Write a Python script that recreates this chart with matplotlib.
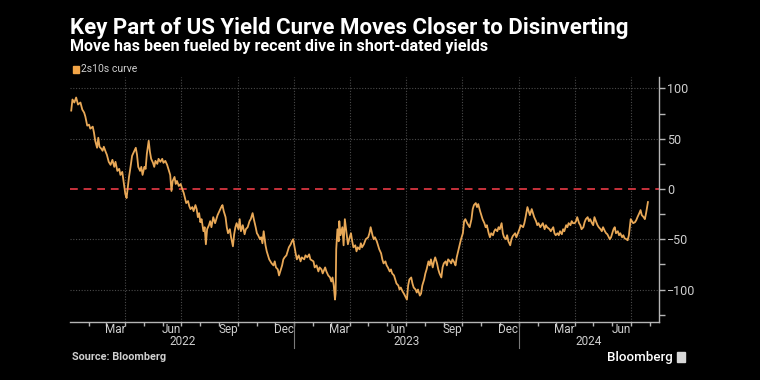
import matplotlib
matplotlib.use('Agg')
import matplotlib.pyplot as plt
import matplotlib.transforms as mtransforms
import pandas as pd

# 2s10s spread (bp)
dates_2022 = ['2022-01-03', '2022-01-05', '2022-01-08', '2022-01-11', '2022-01-14', '2022-01-18', '2022-01-21',
              '2022-01-24', '2022-01-26', '2022-01-29', '2022-02-01', '2022-02-03', '2022-02-07', '2022-02-09',
              '2022-02-11', '2022-02-14', '2022-02-16', '2022-02-18', '2022-02-21', '2022-02-23', '2022-02-25',
              '2022-02-28', '2022-03-02', '2022-03-05', '2022-03-08', '2022-03-11', '2022-03-14', '2022-03-16',
              '2022-03-19', '2022-03-22', '2022-03-24', '2022-03-27', '2022-03-29', '2022-04-01', '2022-04-03',
              '2022-04-05', '2022-04-07', '2022-04-09', '2022-04-12', '2022-04-15', '2022-04-18', '2022-04-20',
              '2022-04-22', '2022-04-25', '2022-04-27', '2022-04-29', '2022-05-02', '2022-05-04', '2022-05-06',
              '2022-05-09', '2022-05-11', '2022-05-13', '2022-05-16', '2022-05-18', '2022-05-20', '2022-05-23',
              '2022-05-25', '2022-05-28', '2022-05-31', '2022-06-02', '2022-06-05', '2022-06-08', '2022-06-10',
              '2022-06-13', '2022-06-15', '2022-06-17', '2022-06-20', '2022-06-22', '2022-06-24', '2022-06-27',
              '2022-06-30', '2022-07-02', '2022-07-05', '2022-07-07', '2022-07-09', '2022-07-12', '2022-07-14',
              '2022-07-16', '2022-07-19', '2022-07-21', '2022-07-24', '2022-07-26', '2022-07-28', '2022-07-30',
              '2022-08-01', '2022-08-03', '2022-08-06', '2022-08-08', '2022-08-10', '2022-08-12', '2022-08-15',
              '2022-08-17', '2022-08-19', '2022-08-22', '2022-08-25', '2022-08-29', '2022-09-01', '2022-09-04',
              '2022-09-06', '2022-09-08', '2022-09-11', '2022-09-13', '2022-09-15', '2022-09-18', '2022-09-20',
              '2022-09-23', '2022-09-25', '2022-09-27', '2022-09-29', '2022-10-02', '2022-10-04', '2022-10-06',
              '2022-10-09', '2022-10-12', '2022-10-14', '2022-10-17', '2022-10-20', '2022-10-22', '2022-10-25',
              '2022-10-27', '2022-10-30', '2022-11-01', '2022-11-03', '2022-11-06', '2022-11-08', '2022-11-10',
              '2022-11-12', '2022-11-15', '2022-11-17', '2022-11-19', '2022-11-21', '2022-11-23', '2022-11-25',
              '2022-11-28', '2022-11-30', '2022-12-02', '2022-12-05', '2022-12-07', '2022-12-09', '2022-12-12',
              '2022-12-14', '2022-12-16', '2022-12-19', '2022-12-21', '2022-12-23', '2022-12-26', '2022-12-28',
              '2022-12-30']
values_2022 = [78, 89, 86, 91, 84, 86, 79,
               76, 72, 63, 64, 60, 62, 56,
               48, 41, 51, 42, 40, 38, 42,
               37, 34, 27, 24, 29, 22, 27,
               18, 20, 14, 17, 8, -5, -9,
               2, 12, 20, 33, 37, 41, 34,
               22, 18, 22, 14, 22, 20, 35,
               48, 37, 30, 26, 22, 28, 25,
               30, 27, 30, 26, 28, 24, 20,
               14, -2, 8, 12, 5, 8, 3,
               5, 1, -4, -9, -14, -12, -17,
               -20, -18, -22, -16, -20, -28, -24,
               -33, -30, -42, -38, -55, -40, -36,
               -32, -38, -28, -34, -26, -22, -18,
               -16, -22, -28, -38, -44, -40, -48,
               -57, -45, -38, -34, -40, -30, -42,
               -36, -45, -40, -38, -32, -30, -24,
               -30, -38, -44, -46, -50, -48, -54,
               -42, -56, -62, -66, -70, -72, -74,
               -76, -72, -78, -80, -86, -82, -76,
               -70, -68, -66, -62, -58, -55, -52,
               -50]

dates_2023 = ['2023-01-03', '2023-01-05', '2023-01-08', '2023-01-11', '2023-01-13', '2023-01-17', '2023-01-19',
              '2023-01-22', '2023-01-25', '2023-01-27', '2023-02-01', '2023-02-03', '2023-02-06', '2023-02-09',
              '2023-02-11', '2023-02-14', '2023-02-16', '2023-02-20', '2023-02-22', '2023-02-25', '2023-02-28',
              '2023-03-02', '2023-03-04', '2023-03-06', '2023-03-08', '2023-03-09', '2023-03-10', '2023-03-12',
              '2023-03-14', '2023-03-15', '2023-03-17', '2023-03-20', '2023-03-22', '2023-03-24', '2023-03-27',
              '2023-03-29', '2023-03-31', '2023-04-03', '2023-04-05', '2023-04-07', '2023-04-10', '2023-04-12',
              '2023-04-14', '2023-04-17', '2023-04-19', '2023-04-21', '2023-04-24', '2023-04-27', '2023-05-01',
              '2023-05-03', '2023-05-05', '2023-05-08', '2023-05-10', '2023-05-12', '2023-05-15', '2023-05-17',
              '2023-05-19', '2023-05-22', '2023-05-24', '2023-05-26', '2023-05-29', '2023-05-31', '2023-06-02',
              '2023-06-05', '2023-06-07', '2023-06-09', '2023-06-12', '2023-06-14', '2023-06-16', '2023-06-19',
              '2023-06-21', '2023-06-23', '2023-06-26', '2023-06-28', '2023-07-03', '2023-07-05', '2023-07-07',
              '2023-07-10', '2023-07-12', '2023-07-14', '2023-07-17', '2023-07-19', '2023-07-21', '2023-07-24',
              '2023-07-26', '2023-07-28', '2023-07-31', '2023-08-02', '2023-08-04', '2023-08-07', '2023-08-09',
              '2023-08-11', '2023-08-14', '2023-08-16', '2023-08-18', '2023-08-21', '2023-08-23', '2023-08-25',
              '2023-08-28', '2023-08-30', '2023-09-01', '2023-09-04', '2023-09-06', '2023-09-08', '2023-09-11',
              '2023-09-13', '2023-09-15', '2023-09-18', '2023-09-20', '2023-09-22', '2023-09-25', '2023-09-27',
              '2023-09-29', '2023-10-02', '2023-10-04', '2023-10-06', '2023-10-09', '2023-10-11', '2023-10-13',
              '2023-10-16', '2023-10-18', '2023-10-20', '2023-10-23', '2023-10-25', '2023-10-27', '2023-10-30',
              '2023-11-01', '2023-11-03', '2023-11-06', '2023-11-08', '2023-11-10', '2023-11-13', '2023-11-15',
              '2023-11-17', '2023-11-20', '2023-11-22', '2023-11-24', '2023-11-27', '2023-11-29', '2023-12-01',
              '2023-12-04', '2023-12-06', '2023-12-08', '2023-12-11', '2023-12-13', '2023-12-15', '2023-12-18',
              '2023-12-20', '2023-12-22', '2023-12-26', '2023-12-28']
values_2023 = [-64, -70, -66, -72, -68, -70, -66,
               -68, -65, -70, -72, -78, -76, -82,
               -78, -80, -84, -78, -82, -86, -88,
               -92, -88, -96, -110, -104, -60, -40,
               -52, -32, -46, -38, -56, -30, -45,
               -55, -50, -44, -52, -58, -56, -62,
               -58, -60, -54, -58, -55, -50, -48,
               -44, -38, -46, -50, -48, -52, -56,
               -60, -64, -70, -74, -72, -76, -78,
               -82, -80, -84, -86, -90, -94, -96,
               -100, -98, -102, -104, -110, -96, -90,
               -88, -94, -98, -100, -103, -100, -106,
               -104, -96, -90, -84, -80, -72, -76,
               -70, -78, -72, -68, -74, -80, -84,
               -88, -78, -74, -72, -76, -70, -72,
               -74, -70, -73, -76, -68, -60, -55,
               -50, -44, -32, -30, -34, -36, -38,
               -30, -20, -16, -14, -18, -15, -22,
               -26, -30, -34, -38, -36, -44, -48,
               -44, -46, -42, -40, -42, -38, -40,
               -34, -44, -48, -50, -46, -52, -56,
               -50, -47, -44, -48]

dates_2024 = ['2024-01-02', '2024-01-04', '2024-01-08', '2024-01-10', '2024-01-12', '2024-01-15', '2024-01-17',
              '2024-01-19', '2024-01-22', '2024-01-24', '2024-01-26', '2024-01-29', '2024-01-31', '2024-02-02',
              '2024-02-05', '2024-02-07', '2024-02-09', '2024-02-12', '2024-02-14', '2024-02-16', '2024-02-20',
              '2024-02-22', '2024-02-26', '2024-02-28', '2024-03-01', '2024-03-04', '2024-03-06', '2024-03-08',
              '2024-03-11', '2024-03-13', '2024-03-15', '2024-03-18', '2024-03-20', '2024-03-22', '2024-03-25',
              '2024-03-27', '2024-03-29', '2024-04-01', '2024-04-03', '2024-04-05', '2024-04-08', '2024-04-10',
              '2024-04-12', '2024-04-15', '2024-04-17', '2024-04-19', '2024-04-22', '2024-04-24', '2024-04-26',
              '2024-04-29', '2024-05-01', '2024-05-03', '2024-05-06', '2024-05-08', '2024-05-10', '2024-05-13',
              '2024-05-15', '2024-05-17', '2024-05-20', '2024-05-22', '2024-05-24', '2024-05-28', '2024-05-30',
              '2024-06-03', '2024-06-05', '2024-06-07', '2024-06-10', '2024-06-12', '2024-06-14', '2024-06-17',
              '2024-06-19', '2024-06-21', '2024-06-24', '2024-06-26', '2024-06-28', '2024-07-01', '2024-07-03',
              '2024-07-05', '2024-07-08', '2024-07-10', '2024-07-12', '2024-07-15', '2024-07-17', '2024-07-19',
              '2024-07-22', '2024-07-24', '2024-07-26', '2024-07-29']
values_2024 = [-40, -36, -38, -34, -28, -18, -22,
               -26, -20, -24, -28, -32, -36, -34,
               -38, -36, -34, -40, -36, -38, -40,
               -42, -38, -44, -46, -44, -46, -42,
               -45, -40, -42, -36, -38, -34, -36,
               -32, -34, -34, -32, -28, -34, -36,
               -40, -38, -33, -30, -28, -32, -30,
               -34, -36, -28, -33, -36, -38, -40,
               -42, -38, -42, -44, -45, -50, -48,
               -40, -38, -44, -42, -46, -44, -48,
               -46, -49, -50, -51, -46, -30, -32,
               -34, -33, -31, -28, -24, -21, -26,
               -28, -30, -24, -13]

month_names = ['Mar', 'Jun', 'Sep', 'Dec']
years = [2022, 2023, 2024]

dates = pd.to_datetime(dates_2022 + dates_2023 + dates_2024)
values = values_2022 + values_2023 + values_2024

bg = '#000000'
grid_c = '#4a4a4a'
text_c = '#cfcfcf'
font = ['Roboto', 'DejaVu Sans']

fig = plt.figure(figsize=(7.6, 3.8), dpi=100, facecolor=bg)
ax = fig.add_axes([70 / 760, 1 - 322 / 380, 589 / 760, 245 / 380], facecolor=bg)

x0, x1 = pd.Timestamp('2022-01-01'), pd.Timestamp('2024-08-16')
ax.set_xlim(x0, x1)
ax.set_ylim(-132.3, 111.4)

# gridlines
for yv in [100, 50, -50, -100]:
    ax.axhline(yv, color=grid_c, lw=0.8, ls=(0, (1, 1.5)), zorder=1)
quarter_lines = pd.date_range('2022-04-01', '2024-07-01', freq='QS')
for d in quarter_lines:
    ax.axvline(d, color=grid_c, lw=0.8, ls=(0, (1, 1.5)), zorder=1)

ax.axhline(0, color='#c8323c', lw=1.4, ls=(0, (4, 3)), zorder=2)
ax.plot(dates, values, color='#e8a857', lw=1.3, zorder=3)

# spines
for s in ['left', 'top']:
    ax.spines[s].set_visible(False)
for s in ['right', 'bottom']:
    ax.spines[s].set_color('#b5b5b5')
    ax.spines[s].set_linewidth(1.0)

# y axis on the right
ax.yaxis.tick_right()
ax.set_yticks([100, 50, 0, -50, -100])
ax.set_yticks([75, 25, -25, -75, -125], minor=True)
ax.tick_params(axis='y', which='both', colors='#b5b5b5', labelcolor=text_c,
               length=4, width=1, pad=2, labelsize=9)
for lab in ax.get_yticklabels():
    lab.set_family(font)

# x axis: month ticks, labels mid-month
month_starts = pd.date_range('2022-02-01', '2024-08-01', freq='MS')
ax.set_xticks(month_starts)
ax.set_xticklabels([''] * len(month_starts))
ax.tick_params(axis='x', which='major', colors='#b5b5b5', length=3, width=1)
label_pos = []
label_txt = []
for y in years:
    for m, name in zip([3, 6, 9, 12], month_names):
        d = pd.Timestamp(y, m, 15)
        if d < x1:
            label_pos.append(d)
            label_txt.append(name)
ax.set_xticks(label_pos, minor=True)
ax.set_xticklabels(label_txt, minor=True)
ax.tick_params(axis='x', which='minor', length=0, pad=1, labelcolor=text_c, labelsize=8.5)
for lab in ax.get_xticklabels(minor=True):
    lab.set_family(font)

# year labels and separators
trans = mtransforms.blended_transform_factory(ax.transData, ax.transAxes)
for y in years:
    start = max(pd.Timestamp(y, 1, 1), x0)
    end = min(pd.Timestamp(y + 1, 1, 1), x1)
    mid = start + (end - start) / 2
    ax.text(mid, -0.08, str(y), transform=trans, ha='center', va='center',
            color=text_c, fontsize=8.5, family=font)
    if y > years[0]:
        ax.plot([pd.Timestamp(y, 1, 1)] * 2, [0, -0.105], transform=trans,
                color='#7a7a7a', lw=0.8, clip_on=False)

# titles and legend
fig.text(70 / 760, 1 - 28 / 380, 'Key Part of US Yield Curve Moves Closer to Disinverting',
         color='white', fontsize=16, fontweight='bold', va='center', family=font)
fig.text(70 / 760, 1 - 47 / 380, 'Move has been fueled by recent dive in short-dated yields',
         color='white', fontsize=11.6, fontweight='bold', va='center', family=font)
fig.patches.append(plt.Rectangle((73 / 760, 1 - 73 / 380), 6 / 760, 7 / 380,
                                 transform=fig.transFigure, color='#f2a547'))
fig.text(81 / 760, 1 - 69.5 / 380, '2s10s curve', color=text_c, fontsize=7.5,
         va='center', family=font)

fig.text(72 / 760, 1 - 357 / 380, 'Source: Bloomberg', color=text_c, fontsize=7.8,
         fontweight='bold', va='center', family=font)
fig.text(673 / 760, 1 - 357 / 380, 'Bloomberg', color='white', fontsize=9.6,
         va='center', ha='right', family=font, fontweight='medium')
fig.patches.append(plt.Rectangle((677 / 760, 1 - 362 / 380), 8 / 760, 10 / 380,
                                 transform=fig.transFigure, color='#d8d8d8'))

fig.savefig('out.png', dpi=100, facecolor=bg)
